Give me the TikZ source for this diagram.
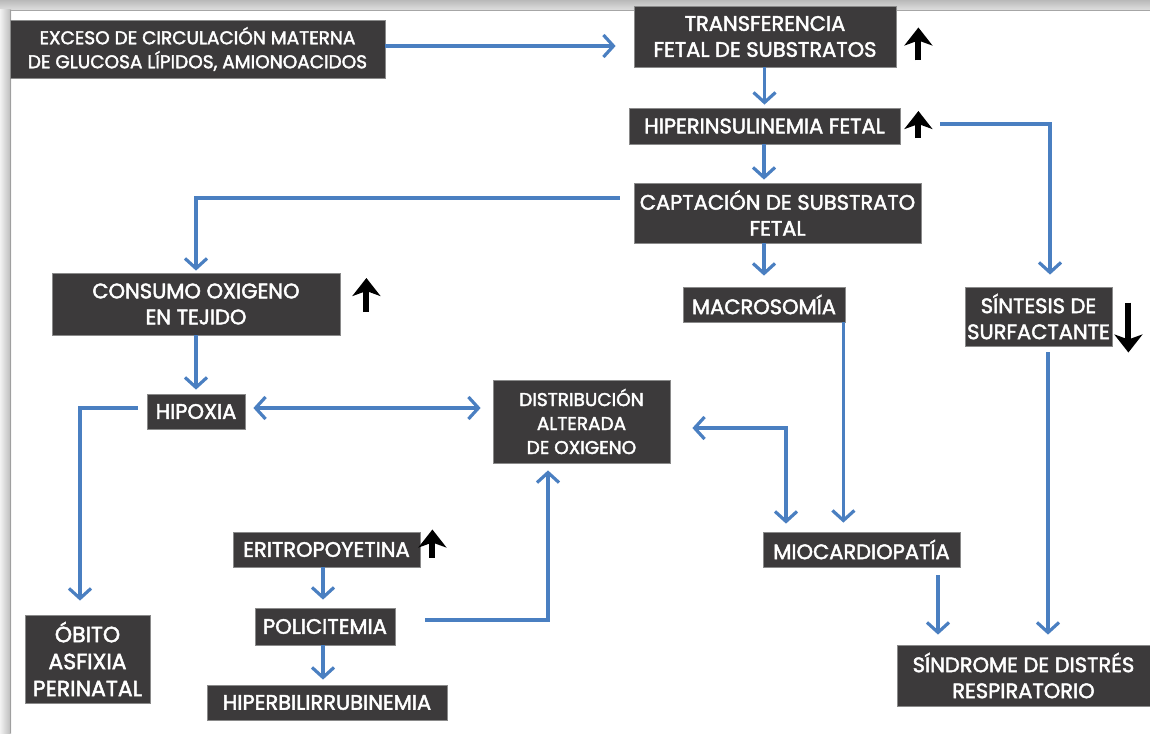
\documentclass[tikz,border=0pt]{standalone}
\usepackage{fontspec}
\setmainfont{Poppins}[FakeBold=2.2]
\usetikzlibrary{arrows.meta,calc}
\definecolor{boxfill}{HTML}{3C3A3B}
\definecolor{boxedge}{HTML}{8A8A8A}
\definecolor{flow}{HTML}{4A7FC1}
\tikzset{
  box/.style={draw=boxedge, line width=0.8pt, fill=boxfill, text=white, inner sep=0pt,
    align=center, font=\fontsize{21}{26}\selectfont},
  smallbox/.style={box, font=\fontsize{18.5}{24}\selectfont},
  conn/.style={draw=flow, line width=3.2pt, -{Straight Barb[length=10pt,width=22pt,line width=3.2pt]}},
  dconn/.style={draw=flow, line width=3.2pt, {Straight Barb[length=10pt,width=22pt,line width=3.2pt]}-{Straight Barb[length=10pt,width=22pt,line width=3.2pt]}},
  upind/.style={draw=black, line width=6pt, -{Stealth[length=18pt,width=28pt,inset=5pt]}},
}
\begin{document}
\begin{tikzpicture}[x=1pt,y=-1pt]
\useasboundingbox (0,0) rectangle (1150,733);
\fill[white] (0,0) rectangle (1150,733);
% page shadow
\shade[top color=gray!55, bottom color=gray!25] (0,0) rectangle (1150,10);
\draw[gray!70, line width=1pt] (11,10.5) -- (1150,10.5);
\shade[left color=gray!10, right color=gray!55] (0,10) rectangle (11,733);
\draw[gray!75, line width=1pt] (10.5,10) -- (10.5,733);

% boxes
\node[smallbox, minimum width=375, minimum height=58] (exceso) at (197.5,49)
  {EXCESO DE CIRCULACIÓN MATERNA\\DE GLUCOSA LÍPIDOS, AMIONOACIDOS};
\node[box, minimum width=262, minimum height=61] (transf) at (765,36.5)
  {TRANSFERENCIA\\FETAL DE SUBSTRATOS};
\node[box, minimum width=271, minimum height=36] (hiper) at (764.5,126)
  {HIPERINSULINEMIA FETAL};
\node[box, minimum width=287, minimum height=60] (capt) at (777.5,213)
  {CAPTACIÓN DE SUBSTRATO\\FETAL};
\node[box, minimum width=288, minimum height=62] (consumo) at (196,304)
  {CONSUMO OXIGENO\\EN TEJIDO};
\node[box, minimum width=98, minimum height=35] (hipoxia) at (196,411.5)
  {HIPOXIA};
\node[smallbox, minimum width=177, minimum height=83] (distrib) at (581.5,421.5)
  {DISTRIBUCIÓN\\ALTERADA\\DE OXIGENO};
\node[box, minimum width=162, minimum height=35] (macro) at (764,304.5)
  {MACROSOMÍA};
\node[box, minimum width=147, minimum height=59] (sintesis) at (1038.5,316.5)
  {SÍNTESIS DE\\SURFACTANTE};
\node[box, minimum width=197, minimum height=35] (miocard) at (861.5,549.5)
  {MIOCARDIOPATÍA};
\node[box, minimum width=253, minimum height=61] (sindrome) at (1023.5,675.5)
  {SÍNDROME DE DISTRÉS\\RESPIRATORIO};
\node[box, minimum width=187, minimum height=35] (eritro) at (326.5,549.5)
  {ERITROPOYETINA};
\node[box, minimum width=140, minimum height=37] (polic) at (325,626.5)
  {POLICITEMIA};
\node[box, minimum width=240, minimum height=35] (bili) at (327,702.5)
  {HIPERBILIRRUBINEMIA};
\node[box, minimum width=125, minimum height=88, font=\fontsize{22}{27}\selectfont] (obito) at (87.5,659)
  {ÓBITO\\ASFIXIA\\PERINATAL};

% helper coordinates
\coordinate (macroOut) at ($(macro.south east)+(-2,0)$);
\coordinate (miocOut) at ($(miocard.south)+(76.5,8)$);
\coordinate (sintOut) at ($(sintesis.south)+(9.5,6)$);
\coordinate (eritOut) at ($(eritro.south)+(-3.5,0)$);
\coordinate (polOut) at ($(polic.south)+(-2,0)$);
\coordinate (miocIn) at ($(miocard.north)+(-75.5,0)$);

% connectors
\draw[conn, shorten >=18pt] (exceso.east |- 0,46) -- (transf.west |- 0,46);
\draw[conn, shorten >=3pt] (hiper.north |- transf.south) -- (hiper.north);
\draw[conn, shorten >=12pt] ($(hiper.east)+(40,-2)$) -| ($(sintesis.north)+(11.5,0)$);
\draw[conn, shorten >=3pt] (macro.north |- hiper.south) -- (macro.north |- capt.north);
\draw[conn, shorten >=2pt] ($(capt.west)+(-14,-15)$) -| (consumo.north);
\draw[conn, shorten >=11pt] (macro.north |- capt.south) -- (macro.north);
\draw[conn, shorten >=4pt] (consumo.south) -- (hipoxia.north);
\draw[conn, shorten >=14pt] ($(hipoxia.west)+(-9,-3.5)$) -| ($(obito.north)+(-7.5,0)$);
\draw[dconn, shorten <=8pt, shorten >=12pt] (hipoxia.east |- 0,408) -- (distrib.west |- 0,408);
\draw[conn, shorten >=9pt] (macroOut) -- (macroOut |- miocard.north);
\draw[dconn, shorten <=22pt, shorten >=8pt] (distrib.east |- 0,428) -| (miocIn);
\draw[conn, shorten >=10pt] (miocOut) -- (miocOut |- sindrome.north);
\draw[conn, shorten >=10pt] (sintOut) -- (sintOut |- sindrome.north);
\draw[conn, shorten >=8pt] (eritOut) -- (eritOut |- polic.north);
\draw[conn, shorten >=7pt] ($(polic.east)+(30,-6.5)$) -| ($(distrib.south)+(-33.5,0)$);
\draw[conn, shorten >=5pt] (polOut) -- (polOut |- bili.north);

% increase / decrease indicators
\draw[upind] ($(transf.east)+(22,24)$) -- ($(transf.east)+(22,-9)$);
\draw[upind] ($(hiper.east)+(18,12)$) -- ($(hiper.east)+(18,-15)$);
\draw[upind] ($(consumo.east)+(26,8)$) -- ($(consumo.east)+(26,-26)$);
\draw[upind] ($(eritro.east)+(12,8)$) -- ($(eritro.east)+(12,-20)$);
\draw[upind] ($(sintesis.east)+(16,-14)$) -- ($(sintesis.east)+(16,36)$);
\end{tikzpicture}
\end{document}
